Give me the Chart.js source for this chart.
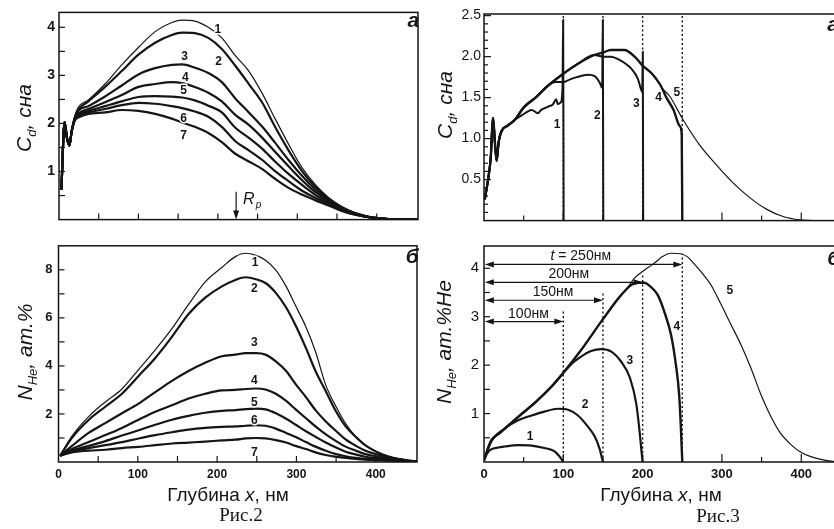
<!DOCTYPE html>
<html lang="ru">
<head>
<meta charset="UTF-8">
<title>Рис.2 и Рис.3</title>
<script src="https://cdn.jsdelivr.net/npm/chart.js"></script>
<style>
  * { margin: 0; padding: 0; box-sizing: border-box; }
  body { width: 834px; height: 529px; overflow: hidden; background: #fff; font-family: "Liberation Sans", Arial, sans-serif; color: #151515; position: relative; }
  .box { position: absolute; }
  .ytitle { position: absolute; transform: translate(-50%, -50%) rotate(-90deg); font-style: italic; font-size: 21px; white-space: nowrap; }
  .ytitle sub { font-size: 0.62em; vertical-align: baseline; position: relative; top: 0.35em; }
  .xtitle { position: absolute; transform: translateX(-50%); font-size: 19px; white-space: nowrap; }
  .fig { position: absolute; transform: translateX(-50%); font-family: "Liberation Serif", "Times New Roman", serif; font-size: 19px; white-space: nowrap; }
</style>
</head>
<body>
  <div class="box" style="left:0;top:0;width:420px;height:232px"><canvas id="chartA"></canvas></div>
  <div class="box" style="left:0;top:232px;width:420px;height:297px"><canvas id="chartB"></canvas></div>
  <div class="box" style="left:420px;top:0;width:425px;height:232px"><canvas id="chartC"></canvas></div>
  <div class="box" style="left:420px;top:232px;width:425px;height:297px"><canvas id="chartD"></canvas></div>

  <div class="ytitle" style="left:24px;top:118px">C<sub>d</sub>, сна</div>
  <div class="ytitle" style="left:25px;top:352px">N<sub>He</sub>, ат.%</div>
  <div class="ytitle" style="left:445px;top:105px">C<sub>d</sub>, сна</div>
  <div class="ytitle" style="left:444px;top:342px">N<sub>He</sub>, ат.%He</div>

  <div class="xtitle" style="left:228px;top:484px">Глубина <i>x</i>, нм</div>
  <div class="xtitle" style="left:661px;top:484px">Глубина <i>x</i>, нм</div>
  <div class="fig" style="left:241px;top:504px">Рис.2</div>
  <div class="fig" style="left:718px;top:505px">Рис.3</div>

  <script>
    // Рис.2 а: C_d (сна) vs depth, curves 1..7
    const depthA = [3, 7, 10, 13, 16, 20, 24, 37, 58, 79, 100, 121, 142, 155, 171, 188, 205, 222, 239, 256, 272, 289, 306, 323, 340, 356, 373, 390, 407, 424, 452];
    const cdA1 = [0.62, 2.03, 1.7, 1.54, 1.84, 2.15, 2.33, 2.49, 2.82, 3.22, 3.58, 3.91, 4.1, 4.15, 4.13, 4.0, 3.78, 3.41, 3.09, 2.62, 2.1, 1.57, 1.08, 0.72, 0.45, 0.27, 0.14, 0.06, 0.02, 0.005, 0];
    const cdA2 = [0.62, 2.03, 1.7, 1.54, 1.84, 2.13, 2.28, 2.46, 2.76, 3.09, 3.43, 3.68, 3.84, 3.89, 3.88, 3.78, 3.55, 3.2, 2.82, 2.43, 1.93, 1.44, 1.01, 0.68, 0.43, 0.26, 0.13, 0.06, 0.02, 0.005, 0];
    const cdA3 = [0.62, 2.03, 1.7, 1.54, 1.84, 2.12, 2.26, 2.36, 2.56, 2.79, 3.02, 3.15, 3.22, 3.23, 3.16, 3.05, 2.86, 2.52, 2.23, 1.93, 1.6, 1.24, 0.91, 0.62, 0.4, 0.24, 0.13, 0.05, 0.02, 0.005, 0];
    const cdA4 = [0.62, 2.03, 1.7, 1.54, 1.84, 2.1, 2.2, 2.3, 2.44, 2.59, 2.76, 2.82, 2.86, 2.84, 2.76, 2.64, 2.46, 2.18, 1.97, 1.7, 1.41, 1.11, 0.82, 0.57, 0.38, 0.24, 0.13, 0.06, 0.02, 0.005, 0];
    const cdA5 = [0.62, 2.03, 1.7, 1.54, 1.84, 2.1, 2.18, 2.26, 2.36, 2.46, 2.55, 2.57, 2.56, 2.54, 2.48, 2.37, 2.23, 1.91, 1.7, 1.47, 1.21, 0.95, 0.72, 0.51, 0.35, 0.21, 0.11, 0.05, 0.02, 0.005, 0];
    const cdA6 = [0.62, 2.03, 1.7, 1.54, 1.84, 2.08, 2.15, 2.23, 2.3, 2.38, 2.43, 2.41, 2.36, 2.32, 2.25, 2.14, 1.93, 1.63, 1.44, 1.24, 1.01, 0.8, 0.6, 0.45, 0.32, 0.19, 0.1, 0.05, 0.02, 0.005, 0];
    const cdA7 = [0.62, 2.03, 1.7, 1.54, 1.84, 2.06, 2.12, 2.2, 2.23, 2.28, 2.26, 2.2, 2.1, 2.02, 1.93, 1.8, 1.61, 1.37, 1.21, 1.05, 0.85, 0.66, 0.52, 0.4, 0.29, 0.18, 0.1, 0.05, 0.02, 0.005, 0];

    // Рис.2 б: N_He (ат.%) vs depth, curves 1..7
    const depthB = [2, 17, 38, 59, 80, 101, 122, 143, 164, 185, 206, 223, 236, 249, 261, 274, 287, 299, 312, 324, 337, 350, 362, 375, 387, 400, 413, 425, 442, 452];
    const heB1 = [0.26, 1.08, 1.89, 2.5, 3.04, 3.85, 4.67, 5.55, 6.56, 7.5, 8.1, 8.55, 8.69, 8.6, 8.4, 7.99, 7.31, 6.5, 5.62, 4.6, 3.2, 2.3, 1.6, 1.05, 0.7, 0.45, 0.28, 0.16, 0.06, 0.02];
    const heB2 = [0.26, 1.01, 1.75, 2.3, 2.84, 3.58, 4.33, 5.21, 6.16, 6.84, 7.31, 7.58, 7.69, 7.61, 7.45, 7.04, 6.43, 5.68, 4.74, 3.79, 2.95, 2.1, 1.48, 1.04, 0.69, 0.44, 0.26, 0.15, 0.06, 0.02];
    const heB3 = [0.26, 0.67, 1.21, 1.62, 2.03, 2.43, 2.91, 3.38, 3.79, 4.13, 4.4, 4.47, 4.53, 4.53, 4.47, 4.19, 3.79, 3.24, 2.7, 2.16, 1.69, 1.29, 0.94, 0.67, 0.47, 0.33, 0.22, 0.13, 0.05, 0.02];
    const heB4 = [0.26, 0.54, 0.83, 1.12, 1.42, 1.76, 2.09, 2.36, 2.64, 2.84, 2.98, 3.0, 3.04, 3.06, 3.02, 2.84, 2.54, 2.19, 1.82, 1.48, 1.15, 0.87, 0.64, 0.47, 0.33, 0.24, 0.16, 0.1, 0.04, 0.02];
    const heB5 = [0.26, 0.47, 0.67, 0.87, 1.1, 1.32, 1.55, 1.76, 1.92, 2.05, 2.13, 2.16, 2.2, 2.22, 2.19, 2.03, 1.8, 1.55, 1.28, 1.05, 0.81, 0.6, 0.43, 0.31, 0.22, 0.17, 0.12, 0.08, 0.04, 0.02];
    const heB6 = [0.26, 0.43, 0.58, 0.7, 0.83, 0.98, 1.12, 1.24, 1.35, 1.42, 1.46, 1.48, 1.51, 1.53, 1.51, 1.39, 1.21, 1.04, 0.83, 0.64, 0.47, 0.33, 0.24, 0.17, 0.13, 0.1, 0.08, 0.06, 0.03, 0.02];
    const heB7 = [0.26, 0.4, 0.47, 0.51, 0.58, 0.63, 0.7, 0.77, 0.81, 0.85, 0.9, 0.93, 0.98, 1.0, 0.98, 0.91, 0.81, 0.67, 0.54, 0.4, 0.29, 0.22, 0.17, 0.13, 0.1, 0.08, 0.06, 0.05, 0.03, 0.02];

    // Рис.3 а: C_d for layers of thickness 100..250 nm (pieces shared between curves)
    const depthC0 = [1, 5, 8.5, 11.3, 14.3, 16, 18.5, 22, 30, 39];
    const cdC0 = [0.26, 0.49, 0.77, 1.25, 0.88, 0.73, 0.96, 1.09, 1.16, 1.23];
    const depthC1 = [47, 55, 60, 68, 72, 81, 87, 91, 93, 96.6, 99, 99.8, 100.4];
    const cdC1 = [1.28, 1.33, 1.35, 1.31, 1.35, 1.39, 1.42, 1.48, 1.42, 1.44, 1.62, 2.45, 0];
    const depthCUp = [50, 65, 80];
    const cdCUp = [1.38, 1.5, 1.64];
    const depthC2 = [90, 100, 108, 117, 131, 140, 146, 149, 149.8, 150.4];
    const cdC2 = [1.69, 1.69, 1.72, 1.75, 1.78, 1.76, 1.68, 1.62, 2.45, 0];
    const depthCMid = [97, 118, 139];
    const cdCMid = [1.77, 1.91, 2.02];
    const depthC3 = [150, 160, 169, 186, 194, 198, 199.5, 200.2, 200.7];
    const cdC3 = [2.0, 2.0, 1.97, 1.85, 1.73, 1.6, 1.57, 2.06, 0];
    const depthCTop = [150, 160, 177, 190, 200, 211, 222];
    const cdCTop = [2.05, 2.08, 2.08, 2.0, 1.89, 1.8, 1.66];
    const depthC4 = [230, 239, 247, 249.3, 250];
    const cdC4 = [1.5, 1.35, 1.15, 1.05, 0];
    const depthC5 = [226, 234, 251, 272, 293, 314, 335, 356, 377, 398, 425, 452];
    const cdC5 = [1.6, 1.52, 1.23, 0.92, 0.68, 0.46, 0.28, 0.14, 0.05, 0.01, 0, 0];

    // Рис.3 б: N_He for the same layers
    const depthD1 = [0, 4, 9, 18, 26, 43, 60, 76, 89, 95, 99, 100];
    const heD1 = [0.04, 0.18, 0.26, 0.3, 0.32, 0.35, 0.34, 0.29, 0.22, 0.12, 0.03, 0];
    const depthD2 = [0, 9, 26, 43, 60, 76, 93, 106, 118.5, 131, 139.5, 146, 149, 150];
    const heD2 = [0.04, 0.42, 0.69, 0.86, 0.96, 1.04, 1.1, 1.08, 0.96, 0.73, 0.53, 0.26, 0.06, 0];
    const depthDEnv = [0, 9, 20, 43, 66, 87, 99];
    const heDEnv = [0.04, 0.44, 0.6, 0.93, 1.25, 1.59, 1.82];
    const depthD3 = [110, 121, 135, 148, 160.5, 173, 184, 192, 196, 199, 200];
    const heD3 = [2.02, 2.16, 2.29, 2.33, 2.28, 2.07, 1.74, 1.2, 0.66, 0.15, 0];
    const depthDUp = [121, 150, 171];
    const heDUp = [2.28, 2.95, 3.41];
    const depthD4 = [186, 194, 202, 210, 219, 227, 236, 242, 246, 248, 249.5, 250];
    const heD4 = [3.66, 3.7, 3.7, 3.62, 3.45, 3.12, 2.61, 2.0, 1.4, 0.79, 0.2, 0];
    const depthD5 = [180, 190, 202, 211, 219, 223, 236, 248, 257, 265, 273.5, 286, 299, 311, 324, 336.5, 349, 362, 374, 387, 399.5, 412, 429, 442, 452];
    const heD5 = [3.58, 3.8, 3.96, 4.06, 4.16, 4.22, 4.31, 4.3, 4.23, 4.09, 3.93, 3.66, 3.25, 2.85, 2.42, 1.94, 1.4, 0.93, 0.59, 0.36, 0.2, 0.11, 0.04, 0.01, 0];

    const ink = '#151515';
    const sans = '"Liberation Sans", Arial, sans-serif';
    Chart.defaults.font.family = sans;
    Chart.defaults.color = ink;

    function pts(xs, ys) {
      return xs.map((x, i) => ({ x: x, y: ys[i] }));
    }

    function series(xs, ys, w) {
      return {
        data: pts(xs, ys),
        borderColor: ink,
        borderWidth: w,
        pointRadius: 0,
        fill: false,
        cubicInterpolationMode: 'monotone'
      };
    }

    function steps(a, b, step) {
      const r = [];
      for (let v = a; v <= b + 1e-9; v += step) r.push(+v.toFixed(3));
      return r;
    }

    function arrowHead(ctx, x, y, dx, dy) {
      // filled triangle with its tip at (x, y), pointing along (dx, dy)
      const len = 9, half = 3;
      const nx = -dy, ny = dx;
      ctx.beginPath();
      ctx.moveTo(x, y);
      ctx.lineTo(x - dx * len + nx * half, y - dy * len + ny * half);
      ctx.lineTo(x - dx * len - nx * half, y - dy * len - ny * half);
      ctx.closePath();
      ctx.fill();
    }

    // frame, inward ticks, dotted guides, curve numbers and other notes
    const marksPlugin = {
      id: 'marks',
      beforeDatasetsDraw(chart, args, o) {
        const { ctx, scales: { x, y } } = chart;
        ctx.save();
        ctx.strokeStyle = ink;
        ctx.lineWidth = 1.4;
        ctx.setLineDash([2, 2.5]);
        (o.dotted || []).forEach(([v, y0, y1]) => {
          const px = x.getPixelForValue(v);
          ctx.beginPath();
          ctx.moveTo(px, y.getPixelForValue(y0));
          ctx.lineTo(px, y.getPixelForValue(y1));
          ctx.stroke();
        });
        ctx.restore();
      },
      afterDatasetsDraw(chart, args, o) {
        const { ctx, chartArea: a, scales: { x, y } } = chart;
        ctx.save();
        ctx.strokeStyle = ink;
        ctx.fillStyle = ink;
        ctx.lineWidth = 1.5;
        ctx.strokeRect(a.left, a.top, a.right - a.left, a.bottom - a.top);

        ctx.lineWidth = 1.2;
        (o.xTicks || []).forEach(([v, len]) => {
          const px = x.getPixelForValue(v);
          ctx.beginPath();
          ctx.moveTo(px, a.bottom);
          ctx.lineTo(px, a.bottom - len);
          ctx.stroke();
        });
        (o.yTicks || []).forEach(([v, len]) => {
          const py = y.getPixelForValue(v);
          ctx.beginPath();
          ctx.moveTo(a.left, py);
          ctx.lineTo(a.left + len, py);
          ctx.stroke();
        });

        // dimension arrows (Рис.3 б)
        (o.arrows || []).forEach(([x0, x1, v]) => {
          const py = y.getPixelForValue(v);
          const p0 = x.getPixelForValue(x0), p1 = x.getPixelForValue(x1);
          ctx.beginPath();
          ctx.moveTo(p0 + 4, py);
          ctx.lineTo(p1 - 4, py);
          ctx.stroke();
          arrowHead(ctx, p0, py, -1, 0);
          arrowHead(ctx, p1, py, 1, 0);
        });
        (o.arrowTexts || []).forEach(([pre, text, v, w]) => {
          ctx.textBaseline = 'alphabetic';
          ctx.textAlign = 'left';
          const fItal = 'italic 14px ' + sans, fNorm = '14px ' + sans;
          ctx.font = fItal;
          const w1 = pre ? ctx.measureText(pre).width : 0;
          ctx.font = fNorm;
          const w2 = ctx.measureText(text).width;
          let px = x.getPixelForValue(v) - (w1 + w2) / 2;
          const py = y.getPixelForValue(w);
          if (pre) {
            ctx.font = fItal;
            ctx.fillText(pre, px, py);
            px += w1;
          }
          ctx.font = fNorm;
          ctx.fillText(text, px, py);
        });

        // R_p marker (Рис.2 а)
        if (o.rp) {
          const [v, y0, y1] = o.rp;
          const px = x.getPixelForValue(v);
          const top = y.getPixelForValue(y0), bot = y.getPixelForValue(y1);
          ctx.beginPath();
          ctx.moveTo(px, top);
          ctx.lineTo(px, bot - 6);
          ctx.stroke();
          arrowHead(ctx, px, bot, 0, 1);
          ctx.textAlign = 'left';
          ctx.textBaseline = 'alphabetic';
          ctx.font = 'italic 16px ' + sans;
          const tx = px + 7, ty = top + 12;
          ctx.fillText('R', tx, ty);
          const rw = ctx.measureText('R').width;
          ctx.font = 'italic 10px ' + sans;
          ctx.fillText('p', tx + rw + 1, ty + 4);
        }

        // curve numbers
        ctx.textAlign = 'center';
        ctx.textBaseline = 'middle';
        ctx.font = 'bold 12px ' + sans;
        ctx.lineJoin = 'round';
        (o.tags || []).forEach(([t, v, w]) => {
          const px = x.getPixelForValue(v), py = y.getPixelForValue(w);
          ctx.lineWidth = 3;
          ctx.strokeStyle = '#fff';
          ctx.strokeText(t, px, py);
          ctx.fillText(t, px, py);
        });

        // panel letter
        if (o.corner) {
          const [t, v, w] = o.corner;
          ctx.font = 'bold italic 21px ' + sans;
          ctx.fillText(t, x.getPixelForValue(v), y.getPixelForValue(w));
        }
        ctx.restore();
      }
    };

    function makeChart(id, p) {
      return new Chart(document.getElementById(id), {
        type: 'line',
        data: { datasets: p.datasets },
        options: {
          responsive: true,
          maintainAspectRatio: false,
          animation: false,
          layout: { padding: p.pad },
          plugins: {
            legend: { display: false },
            tooltip: { enabled: false },
            marks: p.marks
          },
          scales: {
            x: {
              type: 'linear', min: 0, max: 452,
              grid: { display: false, drawTicks: false }, border: { display: false },
              ticks: {
                display: p.xLabels, stepSize: 100, autoSkip: false, includeBounds: false,
                padding: 5, color: ink, font: p.xFont,
                callback: v => (v % 100 === 0 ? v : '')
              },
              afterFit: s => { s.height = p.xh; }
            },
            y: {
              type: 'linear', min: 0, max: p.ymax,
              grid: { display: false, drawTicks: false }, border: { display: false },
              ticks: {
                stepSize: p.ystep, autoSkip: false, includeBounds: false,
                padding: p.ypad, color: ink, font: p.yFont, callback: p.yFmt
              },
              afterFit: s => { s.width = p.yw; }
            }
          }
        },
        plugins: [marksPlugin]
      });
    }

    const xTicks50 = steps(50, 400, 50).map(v => [v, 6]);
    const xTicksMajor = steps(50, 400, 50).map(v => [v, v % 100 === 0 ? 8 : 5]);

    makeChart('chartA', {
      pad: { left: 0, top: 9.5, right: 2, bottom: 0 },
      yw: 59, xh: 4, ymax: 4.31, ystep: 1, ypad: 4,
      xLabels: false,
      yFont: { size: 14, weight: 'bold' },
      yFmt: v => (v >= 1 ? v : ''),
      datasets: [
        series(depthA, cdA1, 1.2),
        series(depthA, cdA2, 2.2),
        series(depthA, cdA3, 2.2),
        series(depthA, cdA4, 2.2),
        series(depthA, cdA5, 2.2),
        series(depthA, cdA6, 2.2),
        series(depthA, cdA7, 2.2)
      ],
      marks: {
        xTicks: xTicks50,
        yTicks: steps(0.5, 4, 0.5).map(v => [v, 6]),
        tags: [['1', 200, 3.95], ['2', 201, 3.29], ['3', 158, 3.38], ['4', 159, 2.96], ['5', 157, 2.68], ['6', 157, 2.1], ['7', 157, 1.74]],
        rp: [223, 0.58, 0],
        corner: ['а', 446, 4.12]
      }
    });

    makeChart('chartB', {
      pad: { left: 0, top: 9, right: 3, bottom: 0 },
      yw: 58.5, xh: 67, ymax: 9, ystep: 2, ypad: 6,
      xLabels: true,
      xFont: { size: 12, weight: 'bold' },
      yFont: { size: 13, weight: 'bold' },
      yFmt: v => (v > 0 ? v : ''),
      datasets: [
        series(depthB, heB1, 1.2),
        series(depthB, heB2, 2.2),
        series(depthB, heB3, 2.2),
        series(depthB, heB4, 2.2),
        series(depthB, heB5, 2.2),
        series(depthB, heB6, 2.2),
        series(depthB, heB7, 2.2)
      ],
      marks: {
        xTicks: xTicks50,
        yTicks: steps(1, 8, 1).map(v => [v, 6]),
        tags: [['1', 248, 8.3], ['2', 247, 7.2], ['3', 247, 4.95], ['4', 247, 3.4], ['5', 247, 2.45], ['6', 247, 1.72], ['7', 247, 0.38]],
        corner: ['б', 446, 8.52]
      }
    });

    makeChart('chartC', {
      pad: { left: 0, top: 14, right: 2.5, bottom: 0 },
      yw: 64, xh: 1, ymax: 2.52, ystep: 0.5, ypad: 3,
      xLabels: false,
      yFont: { size: 14 },
      yFmt: v => (v > 0 ? v.toFixed(1) : ''),
      datasets: [
        series(depthC0.concat(depthC1), cdC0.concat(cdC1), 2),
        series(depthC0.concat(depthCUp, depthC2), cdC0.concat(cdCUp, cdC2), 2),
        series(depthC0.concat(depthCUp, depthCMid, depthC3), cdC0.concat(cdCUp, cdCMid, cdC3), 2),
        series(depthC0.concat(depthCUp, depthCMid, depthCTop, depthC4), cdC0.concat(cdCUp, cdCMid, cdCTop, cdC4), 2.4),
        series(depthC0.concat(depthCUp, depthCMid, depthCTop, depthC5), cdC0.concat(cdCUp, cdCMid, cdCTop, cdC5), 1.2)
      ],
      marks: {
        dotted: [[100, 0, 2.52], [150, 0, 2.52], [200, 0, 2.52], [250, 0, 2.52]],
        xTicks: xTicksMajor,
        yTicks: steps(0.1, 2.5, 0.1).map(v => [v, Math.abs(v * 2 - Math.round(v * 2)) < 1e-6 ? 7 : 4]),
        tags: [['1', 92, 1.17], ['2', 143, 1.28], ['3', 192, 1.42], ['4', 220, 1.5], ['5', 243, 1.56]],
        corner: ['а', 440, 2.38]
      }
    });

    makeChart('chartD', {
      pad: { left: 0, top: 9, right: 2.5, bottom: 0 },
      yw: 64, xh: 67, ymax: 4.46, ystep: 1, ypad: 5,
      xLabels: true,
      xFont: { size: 13, weight: 'bold' },
      yFont: { size: 15 },
      yFmt: v => (v > 0 ? v : ''),
      datasets: [
        series(depthD1, heD1, 2.2),
        series(depthD2, heD2, 2.2),
        series(depthDEnv.concat(depthD3), heDEnv.concat(heD3), 2.2),
        series(depthDEnv.concat(depthDUp, depthD4), heDEnv.concat(heDUp, heD4), 2.4),
        series(depthDEnv.concat(depthDUp, depthD5), heDEnv.concat(heDUp, heD5), 1.2)
      ],
      marks: {
        dotted: [[100, 0, 3.12], [150, 0, 3.52], [200, 0, 3.9], [250, 0, 4.3]],
        xTicks: xTicksMajor,
        yTicks: steps(0.5, 4, 0.5).map(v => [v, 6]),
        arrows: [[1, 100, 2.9], [1, 150, 3.34], [1, 200, 3.71], [1, 250, 4.08]],
        arrowTexts: [['', '100нм', 56, 2.98], ['', '150нм', 87, 3.42], ['', '200нм', 107, 3.79], ['t', ' = 250нм', 122, 4.17]],
        tags: [['1', 58, 0.52], ['2', 127.5, 1.19], ['3', 184, 2.1], ['4', 243, 2.79], ['5', 310, 3.53]],
        corner: ['б', 441, 4.18]
      }
    });
  </script>
</body>
</html>
